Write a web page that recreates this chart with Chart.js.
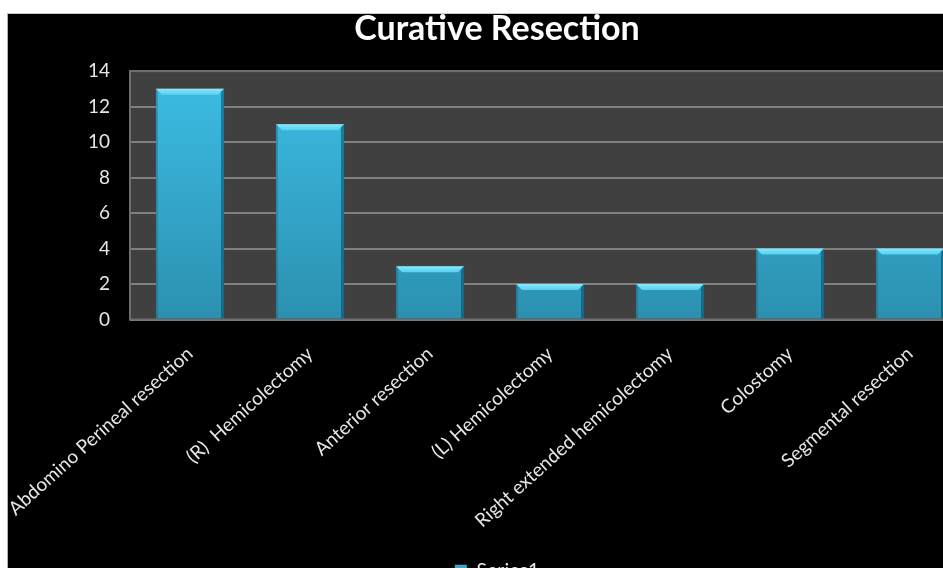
<!DOCTYPE html>
<html>
<head>
<meta charset="utf-8">
<script src="https://cdn.jsdelivr.net/npm/chart.js@4/dist/chart.umd.min.js"></script>
<style>
  html, body { margin: 0; padding: 0; background: #ffffff; overflow: hidden; width: 943px; height: 568px; }
  #frame { position: absolute; left: 7px; top: 13px; width: 1000px; height: 600px; border-left: 1px solid #b0b0b0; border-top: 1px solid #c8c8c8; background: #000; overflow: hidden; }
  #wrap { position: absolute; left: 0; top: 0; width: 980px; height: 576px; }
</style>
</head>
<body>
<div id="frame"><div id="wrap"><canvas id="c" width="980" height="576"></canvas></div></div>
<script>
// Procedures performed with curative intent
const categories = [
  'Abdomino Perineal resection',
  '(R)  Hemicolectomy',
  'Anterior resection',
  '(L) Hemicolectomy',
  'Right extended hemicolectomy',
  'Colostomy',
  'Segmental resection'
];
const seriesName = 'Series1';
const counts = [13, 11, 3, 2, 2, 4, 4];
const yTicks = [0, 2, 4, 6, 8, 10, 12, 14];

const FONT = 'Lato, "DejaVu Sans", sans-serif';

// Dark grey plot area with a thin grey frame
const plotBackground = {
  id: 'plotBackground',
  beforeDraw(chart) {
    const { ctx, chartArea: a } = chart;
    ctx.save();
    ctx.fillStyle = '#404040';
    ctx.fillRect(a.left, a.top, a.right - a.left, a.bottom - a.top);
    ctx.restore();
  },
  afterDraw(chart) {
    const { ctx, chartArea: a } = chart;
    ctx.save();
    ctx.strokeStyle = '#6e6e6e';
    ctx.lineWidth = 2;
    ctx.strokeRect(a.left, a.top, a.right - a.left, a.bottom - a.top);
    ctx.restore();
  }
};

// Bevelled look on each column: bright top facet, darker side edges
const bevel = {
  id: 'bevel',
  afterDatasetsDraw(chart) {
    const { ctx } = chart;
    const meta = chart.getDatasetMeta(0);
    ctx.save();
    meta.data.forEach(bar => {
      const l = bar.x - bar.width / 2, r = bar.x + bar.width / 2;
      const t = bar.y, b = bar.base;
      const h = b - t;
      const s = Math.min(6, h / 3);
      // top facet
      const g = ctx.createLinearGradient(0, t, 0, t + s);
      g.addColorStop(0, '#86e8fc');
      g.addColorStop(1, '#55d0f0');
      ctx.fillStyle = g;
      ctx.beginPath();
      ctx.moveTo(l, t); ctx.lineTo(r, t); ctx.lineTo(r - s, t + s); ctx.lineTo(l + s, t + s);
      ctx.closePath(); ctx.fill();
      // left edge
      ctx.fillStyle = 'rgba(20,90,115,0.35)';
      ctx.beginPath();
      ctx.moveTo(l, t); ctx.lineTo(l + 2, t + 2); ctx.lineTo(l + 2, b); ctx.lineTo(l, b);
      ctx.closePath(); ctx.fill();
      // right edge
      ctx.fillStyle = 'rgba(15,70,95,0.55)';
      ctx.beginPath();
      ctx.moveTo(r, t); ctx.lineTo(r - 3, t + 3); ctx.lineTo(r - 3, b); ctx.lineTo(r, b);
      ctx.closePath(); ctx.fill();
    });
    ctx.restore();
  }
};

function barFill(context) {
  const chart = context.chart;
  const a = chart.chartArea;
  if (!a) return '#38b4da';
  const g = chart.ctx.createLinearGradient(0, a.top, 0, a.bottom);
  g.addColorStop(0, '#3dbee5');
  g.addColorStop(1, '#2b90b0');
  return g;
}

new Chart(document.getElementById('c'), {
  type: 'bar',
  data: {
    labels: categories,
    datasets: [{
      label: seriesName,
      data: counts,
      backgroundColor: barFill,
      borderWidth: 0,
      categoryPercentage: 1,
      barPercentage: 0.567
    }]
  },
  options: {
    responsive: false,
    animation: false,
    devicePixelRatio: 1,
    layout: { padding: { left: 0, right: 2, top: 0, bottom: 0 } },
    plugins: {
      title: {
        display: true,
        text: 'Curative Resection',
        color: '#ffffff',
        font: { family: FONT, size: 34, weight: 'bold', lineHeight: 0.9 },
        padding: { top: 0, bottom: 26.5 }
      },
      legend: {
        display: true,
        position: 'bottom',
        labels: {
          color: '#e8e8e8',
          font: { family: FONT, size: 19.5 },
          boxWidth: 12,
          boxHeight: 11,
          padding: 10,
          generateLabels(chart) {
            return [{ text: seriesName, fillStyle: '#33aacf', strokeStyle: '#33aacf', lineWidth: 0, fontColor: '#e8e8e8', datasetIndex: 0 }];
          }
        }
      },
      tooltip: { enabled: false }
    },
    scales: {
      x: {
        grid: { display: false, drawTicks: false },
        border: { display: false },
        ticks: {
          color: '#e6e6e6',
          font: { family: FONT, size: 19 },
          minRotation: 42,
          maxRotation: 42,
          padding: 23,
          autoSkip: false
        },
        afterFit(scale) {
          scale.height = 231;
          // long slanted labels may run past the left edge
          scale.paddingLeft = 0;
          scale.paddingRight = 0;
        }
      },
      y: {
        min: 0,
        max: 14,
        afterBuildTicks(scale) { scale.ticks = yTicks.map(v => ({ value: v })); },
        grid: { color: '#808080', lineWidth: 2, drawTicks: false },
        border: { display: false },
        ticks: {
          color: '#e6e6e6',
          font: { family: FONT, size: 19 },
          padding: 20
        },
        afterFit(scale) { scale.width = 122; }
      },
      // empty margin strip on the right of the plot
      yRight: {
        position: 'right',
        display: true,
        grid: { display: false, drawTicks: false },
        border: { display: false },
        ticks: { display: false },
        afterFit(scale) { scale.width = 16; }
      }
    }
  },
  plugins: [plotBackground, bevel]
});
</script>
</body>
</html>
